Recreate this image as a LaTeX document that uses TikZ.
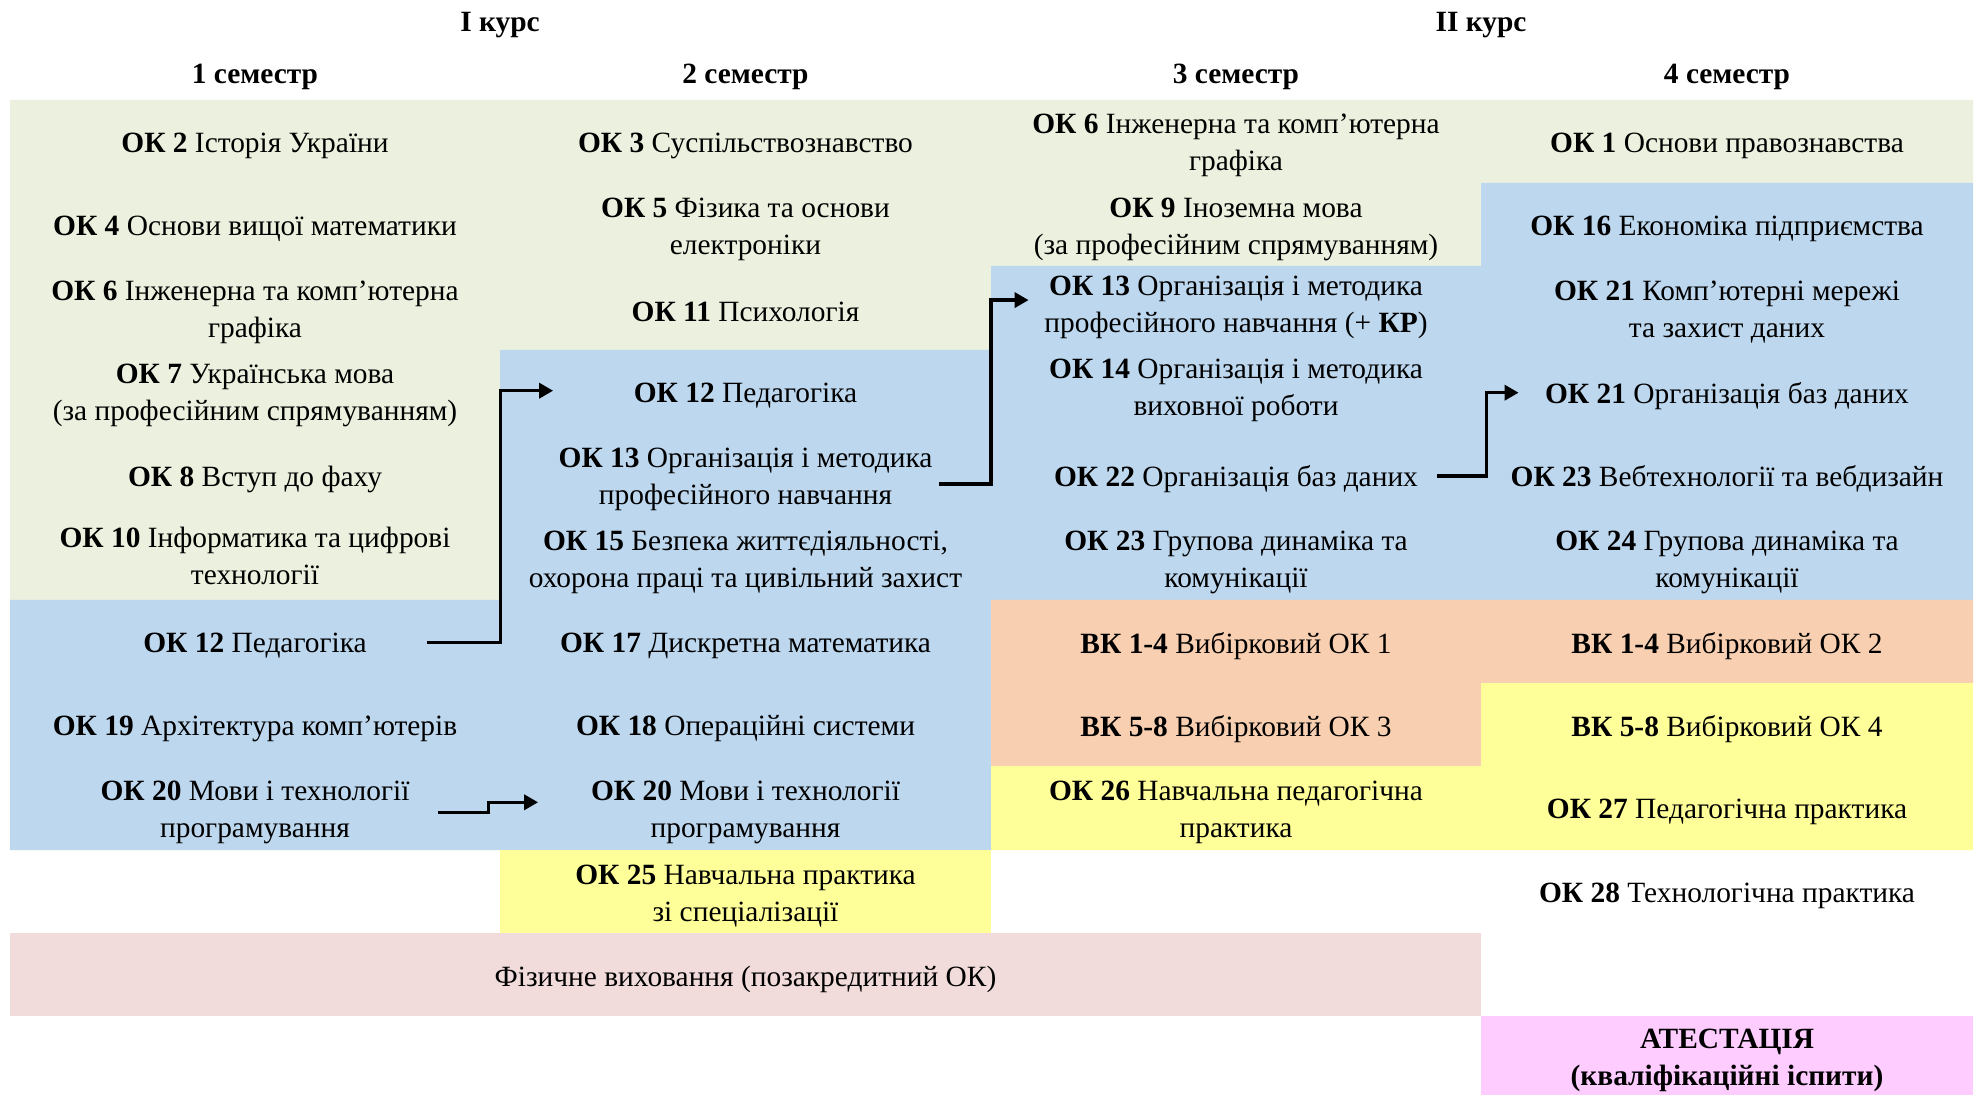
\documentclass[tikz,border=0pt]{standalone}
\usepackage{fontspec}
\setmainfont{Liberation Serif}
\usetikzlibrary{arrows.meta}

\definecolor{okGreen}{HTML}{EBF1DE}
\definecolor{okBlue}{HTML}{BDD7EE}
\definecolor{vkOrange}{HTML}{F8CFB0}
\definecolor{practYellow}{HTML}{FFFF99}
\definecolor{sportPink}{HTML}{F2DCDB}
\definecolor{atestPink}{HTML}{FFCCFF}

\tikzstyle{cellBox} = [minimum width=245pt, minimum height=41.6pt, inner sep=0pt,
   yshift=-2pt, align=center, font=\fontsize{14.7}{18.5}\selectfont]
\tikzstyle{semHead} = [inner sep=0pt, font=\fontsize{14.7}{18.5}\selectfont\bfseries]
\tikzstyle{linkArrow} = [line width=1.75pt, -{Triangle[length=7pt,width=7.5pt]}]

\begin{document}
\begin{tikzpicture}[x=0.5pt,y=-0.5pt]
  \useasboundingbox (0,0) rectangle (1979,1095);

  % colour blocks
  \fill[okGreen] (10,100) -- (1973,100) -- (1973,183) -- (1481,183) -- (1481,266)
    -- (991,266) -- (991,350) -- (500,350) -- (500,600) -- (10,600) -- cycle;
  \fill[okBlue] (10,600) -- (500,600) -- (500,350) -- (991,350) -- (991,266)
    -- (1481,266) -- (1481,183) -- (1973,183) -- (1973,600) -- (991,600)
    -- (991,850) -- (10,850) -- cycle;
  \fill[vkOrange] (991,600) -- (1973,600) -- (1973,683) -- (1481,683)
    -- (1481,766) -- (991,766) -- cycle;
  \fill[practYellow] (1481,683) -- (1973,683) -- (1973,850) -- (991,850)
    -- (991,766) -- (1481,766) -- cycle;
  \fill[practYellow] (500,850) rectangle (991,933);
  \fill[sportPink] (10,933) rectangle (1481,1016);
  \fill[atestPink] (1481,1016) rectangle (1973,1095);

  % headers
  \node[semHead] (kurs1) at (500,25) {I курс};
  \node[semHead] (kurs2) at (1481,25) {II курс};
  \node[semHead] (sem1) at (255,77) {1 семестр};
  \node[semHead] (sem2) at (745.5,77) {2 семестр};
  \node[semHead] (sem3) at (1236,77) {3 семестр};
  \node[semHead] (sem4) at (1727,77) {4 семестр};

  % 1 semester
  \node[cellBox] (a2) at (255,141.7) {\textbf{ОК 2} Історія України};
  \node[cellBox] (a4) at (255,225) {\textbf{ОК 4} Основи вищої математики};
  \node[cellBox] (a6) at (255,308.3) {\textbf{ОК 6} Інженерна та комп’ютерна\\графіка};
  \node[cellBox] (a7) at (255,391.7) {\textbf{ОК 7} Українська мова\\(за професійним спрямуванням)};
  \node[cellBox] (a8) at (255,475) {\textbf{ОК 8} Вступ до фаху};
  \node[cellBox] (a10) at (255,552) {\textbf{ОК 10} Інформатика та цифрові\\технології};
  \node[cellBox] (a12) at (255,641.7) {\textbf{ОК 12} Педагогіка};
  \node[cellBox] (a19) at (255,725) {\textbf{ОК 19} Архітектура комп’ютерів};
  \node[cellBox] (a20) at (255,808.3) {\textbf{ОК 20} Мови і технології\\програмування};

  % 2 semester
  \node[cellBox] (b3) at (745.5,141.7) {\textbf{ОК 3} Суспільствознавство};
  \node[cellBox] (b5) at (745.5,225) {\textbf{ОК 5} Фізика та основи\\електроніки};
  \node[cellBox] (b11) at (745.5,308.3) {\textbf{ОК 11} Психологія};
  \node[cellBox] (b12) at (745.5,391.7) {\textbf{ОК 12} Педагогіка};
  \node[cellBox] (b13) at (745.5,475) {\textbf{ОК 13} Організація і методика\\професійного навчання};
  \node[cellBox] (b15) at (745.5,558.3) {\textbf{ОК 15} Безпека життєдіяльності,\\охорона праці та цивільний захист};
  \node[cellBox] (b17) at (745.5,641.7) {\textbf{ОК 17} Дискретна математика};
  \node[cellBox] (b18) at (745.5,725) {\textbf{ОК 18} Операційні системи};
  \node[cellBox] (b20) at (745.5,808.3) {\textbf{ОК 20} Мови і технології\\програмування};
  \node[cellBox] (b25) at (745.5,891.7) {\textbf{ОК 25} Навчальна практика\\зі спеціалізації};

  % 3 semester
  \node[cellBox] (c6) at (1236,141.7) {\textbf{ОК 6} Інженерна та комп’ютерна\\графіка};
  \node[cellBox] (c9) at (1236,225) {\textbf{ОК 9} Іноземна мова\\(за професійним спрямуванням)};
  \node[cellBox] (c13) at (1236,303.3) {\textbf{ОК 13} Організація і методика\\професійного навчання (+ \textbf{КР})};
  \node[cellBox] (c14) at (1236,386) {\textbf{ОК 14} Організація і методика\\виховної роботи};
  \node[cellBox] (c22) at (1236,475) {\textbf{ОК 22} Організація баз даних};
  \node[cellBox] (c23) at (1236,558.3) {\textbf{ОК 23} Групова динаміка та\\комунікації};
  \node[cellBox] (cvk1) at (1236,641.7) {\textbf{ВК 1-4} Вибірковий ОК 1};
  \node[cellBox] (cvk3) at (1236,725) {\textbf{ВК 5-8} Вибірковий ОК 3};
  \node[cellBox] (c26) at (1236,808.3) {\textbf{ОК 26} Навчальна педагогічна\\практика};

  % 4 semester
  \node[cellBox] (d1) at (1727,141.7) {\textbf{ОК 1} Основи правознавства};
  \node[cellBox] (d16) at (1727,225) {\textbf{ОК 16} Економіка підприємства};
  \node[cellBox] (d21) at (1727,308.3) {\textbf{ОК 21} Комп’ютерні мережі\\та захист даних};
  \node[cellBox] (d21b) at (1727,391.7) {\textbf{ОК 21} Організація баз даних};
  \node[cellBox] (d23) at (1727,475) {\textbf{ОК 23} Вебтехнології та вебдизайн};
  \node[cellBox] (d24) at (1727,558.3) {\textbf{ОК 24} Групова динаміка та\\комунікації};
  \node[cellBox] (dvk2) at (1727,641.7) {\textbf{ВК 1-4} Вибірковий ОК 2};
  \node[cellBox] (dvk4) at (1727,725) {\textbf{ВК 5-8} Вибірковий ОК 4};
  \node[cellBox] (d27) at (1727,808.3) {\textbf{ОК 27} Педагогічна практика};
  \node[cellBox] (d28) at (1727,891.7) {\textbf{ОК 28} Технологічна практика};
  \node[cellBox] (atest) at (1727,1056) {\textbf{АТЕСТАЦІЯ}\\\textbf{(кваліфікаційні іспити)}};

  % spans three semesters
  \node[cellBox, minimum width=735pt] (fiz) at (745.5,975) {Фізичне виховання (позакредитний ОК)};

  % links between semesters
  \draw[linkArrow] ([xshift=-36.5pt,yshift=1.5pt]a12.east) -- ([yshift=1.5pt]a12.east)
    |- ([xshift=26.5pt,yshift=2.5pt]b12.west);
  \draw[linkArrow] ([xshift=-26pt,yshift=-2.5pt]b13.east) -- ([yshift=-2.5pt]b13.east)
    |- ([xshift=19pt,yshift=3.6pt]c13.west);
  \draw[linkArrow] ([xshift=-22pt,yshift=1.5pt]c22.east) -- ([xshift=2.5pt,yshift=1.5pt]c22.east)
    |- ([xshift=18.5pt,yshift=1.5pt]d21b.west);
  \draw[linkArrow] ([xshift=-31pt]a20.east) -- ([xshift=-6pt]a20.east)
    |- ([xshift=19pt,yshift=5pt]b20.west);
\end{tikzpicture}
\end{document}
